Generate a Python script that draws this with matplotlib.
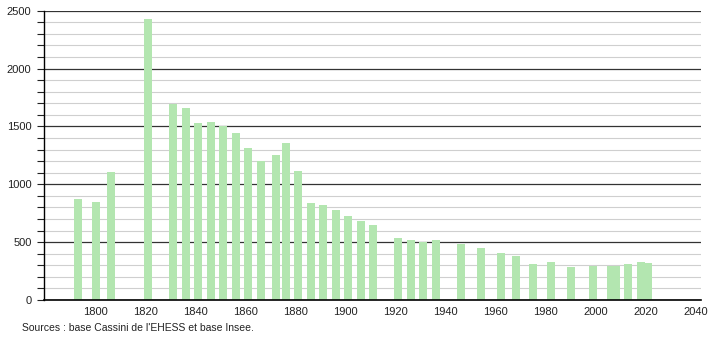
import numpy as np
import matplotlib.pyplot as plt
from matplotlib.ticker import MultipleLocator

plt.rcParams['font.family'] = ['Liberation Sans', 'DejaVu Sans']

# Recensements
annees = [1793, 1800, 1806, 1821, 1831, 1836, 1841, 1846, 1851, 1856,
          1861, 1866, 1872, 1876, 1881, 1886, 1891, 1896, 1901, 1906,
          1911, 1921, 1926, 1931, 1936, 1946, 1954, 1962, 1968, 1975,
          1982, 1990, 1999, 2006, 2008, 2013, 2018, 2021]
population = [872, 846, 1105, 2426, 1696, 1662, 1530, 1538, 1505, 1445,
              1314, 1201, 1253, 1360, 1118, 838, 821, 778, 726, 680,
              648, 536, 519, 501, 519, 486, 451, 409, 383, 314,
              328, 288, 291, 290, 290, 312, 331, 322]

fig = plt.figure(figsize=(7.1, 3.4), dpi=100)
ax = fig.add_axes([44/710, 40/340, 656.7/710, 289.3/340])

ax.set_xlim(1779.3, 2042.0)
ax.set_ylim(0, 2500)

ax.yaxis.set_major_locator(MultipleLocator(500))
ax.yaxis.set_minor_locator(MultipleLocator(100))
ax.set_xticks(np.arange(1800, 2041, 20))

ax.grid(axis='y', which='minor', color='#cfcfcf', lw=0.8, zorder=0)
ax.grid(axis='y', which='major', color='#333333', lw=0.9, zorder=0)

ax.bar(annees, population, width=3.2, color='#b3e6b0', zorder=2)

for s in ['top', 'right']:
    ax.spines[s].set_visible(False)
ax.spines['left'].set_color('black')
ax.spines['bottom'].set_color('black')
ax.spines['left'].set_linewidth(1)
ax.spines['bottom'].set_linewidth(1.2)

ax.tick_params(axis='y', which='both', direction='out', length=5, width=0.8,
               labelsize=8, colors='#222222')
ax.tick_params(axis='x', length=0, labelsize=8, colors='#222222', pad=5)
ax.tick_params(axis='y', which='major', pad=4)

fig.text(22/710, 1 - 328/340, "Sources : base Cassini de l'EHESS et base Insee.",
         fontsize=7.5, color='#222222', va='center', ha='left')

fig.savefig('out.png', dpi=100)
